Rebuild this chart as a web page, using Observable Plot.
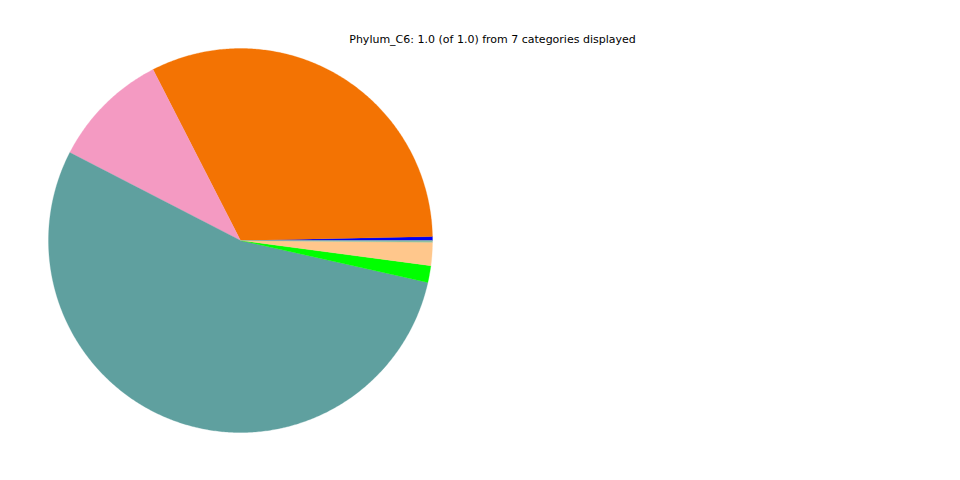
<!DOCTYPE html>
<html>
<head>
<meta charset="utf-8">
<script src="https://cdn.jsdelivr.net/npm/d3@7"></script>
<script src="https://cdn.jsdelivr.net/npm/@observablehq/plot@0.6"></script>
<style>
  html, body { margin: 0; padding: 0; background: #fff; }
  #wrap { position: relative; width: 960px; height: 480px; }
  #title { position: absolute; left: 0; width: 985px; top: 33px; text-align: center;
           font-family: "DejaVu Sans", sans-serif; font-size: 11px; color: #000; }
</style>
</head>
<body>
<div id="wrap">
  <div id="chart"></div>
  <div id="title">Phylum_C6: 1.0 (of 1.0) from 7 categories displayed</div>
</div>
<script>
const categories = ["Cat_blue", "Cat_orange", "Cat_pink", "Cat_teal", "Cat_green", "Cat_peach", "Cat_sage"];
const values = [0.0033, 0.322, 0.099, 0.5406, 0.0142, 0.0194, 0.0015];
const colors = ["#0000f0", "#f37303", "#f49ac2", "#5fa09f", "#00ff00", "#ffc78c", "#8fc0a0"];

const total = d3.sum(values);
// matplotlib style: start at 0 rad (3 o'clock), counterclockwise
const pts = [];
let acc = 0;
categories.forEach((c, i) => {
  const a0 = acc / total * 2 * Math.PI;
  acc += values[i];
  const a1 = acc / total * 2 * Math.PI;
  pts.push({cat: c, x: 0, y: 0, color: colors[i]});
  const n = Math.max(2, Math.ceil((a1 - a0) / (Math.PI / 360)));
  for (let k = 0; k <= n; k++) {
    const a = a0 + (a1 - a0) * k / n;
    pts.push({cat: c, x: Math.cos(a), y: Math.sin(a), color: colors[i]});
  }
  pts.push({cat: c, x: 0, y: 0, color: colors[i]});
});

const chart = Plot.plot({
  width: 960,
  height: 480,
  marginLeft: 48,
  marginRight: 528,
  marginTop: 48,
  marginBottom: 48,
  x: {domain: [-1, 1], axis: null},
  y: {domain: [-1, 1], axis: null},
  color: {type: "identity"},
  marks: [
    Plot.line(pts, {x: "x", y: "y", z: "cat", fill: "color", stroke: "color", strokeWidth: 0.3, curve: "linear"})
  ]
});
document.getElementById("chart").appendChild(chart);
</script>
</body>
</html>
